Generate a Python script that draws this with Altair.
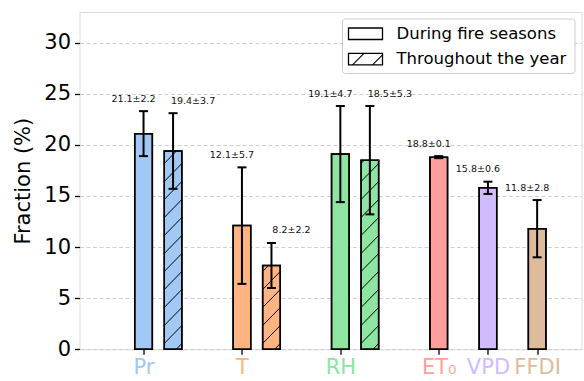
import altair as alt
import pandas as pd

# ---- data -------------------------------------------------------------
variables = ["Pr", "T", "RH", "ET₀", "VPD", "FFDI"]
fire_mean = [21.1, 12.1, 19.1, 18.8, 15.8, 11.8]
fire_sd = [2.2, 5.7, 4.7, 0.1, 0.6, 2.8]
year_vars = ["Pr", "T", "RH"]
year_mean = [19.4, 8.2, 18.5]
year_sd = [3.7, 2.2, 5.3]
colors = ["#a1c9f4", "#ffb482", "#8de5a1", "#ff9f9b", "#d0bbff", "#debb9b"]
period_labels = ["During fire seasons", "Throughout the year"]
y_ticks = [0, 5, 10, 15, 20, 25, 30]

# ---- layout -----------------------------------------------------------
slot = [0, 2, 4, 6, 7, 8]          # axis position of each variable
pair_offset = 0.6                  # hatched bar sits to the right of its pair
W, H = 502, 337.3
x_dom = [-1.2, 8.8]
y_dom = [0, 33]
bar_px = 17.6
hatch_step = 18.0                  # px between hatch lines
FONT = "DejaVu Sans"

pos = dict(zip(variables, slot))

rows = []
for v, m, s in zip(variables, fire_mean, fire_sd):
    rows.append(dict(var=v, period=period_labels[0], x=pos[v], mean=m,
                     lo=m - s, hi=m + s, label=f"{m:.1f}±{s:.1f}"))
for v, m, s in zip(year_vars, year_mean, year_sd):
    rows.append(dict(var=v, period=period_labels[1], x=pos[v] + pair_offset,
                     mean=m, lo=m - s, hi=m + s, label=f"{m:.1f}±{s:.1f}"))
df = pd.DataFrame(rows)
fire_df = df[df.period == period_labels[0]]
year_df = df[df.period == period_labels[1]]

# diagonal hatch segments inside the "throughout the year" bars
px_x = W / (x_dom[1] - x_dom[0])
px_y = H / (y_dom[1] - y_dom[0])
segs = []
for _, r in year_df.iterrows():
    xl = r.x - bar_px / 2 / px_x
    hpx = r["mean"] * px_y
    k = -2
    while k * hatch_step < hpx + hatch_step:
        c = k * hatch_step + 6.0
        u0 = max(0.0, -c)
        u1 = min(bar_px, hpx - c)
        if u1 > u0:
            segs.append(dict(x=xl + u0 / px_x, y=(u0 + c) / px_y,
                             x2=xl + u1 / px_x, y2=(u1 + c) / px_y))
        k += 1
hatch_df = pd.DataFrame(segs)

x_scale = alt.Scale(domain=x_dom, nice=False, zero=False)
y_scale = alt.Scale(domain=y_dom, nice=False)

slot_js = "[" + ",".join(str(s) for s in slot) + "]"
names_js = "[" + ",".join(f"'{v}'" for v in variables) + "]"
colors_js = "[" + ",".join(f"'{c}'" for c in colors) + "]"

x_axis = alt.Axis(
    values=slot, labelExpr=f"{names_js}[indexof({slot_js}, datum.value)]",
    labelColor={"condition": {"test": "datum.value < -100", "value": "black"},
                "expr": f"{colors_js}[indexof({slot_js}, datum.value)]"},
    labelFontSize=21, labelFont=FONT, labelPadding=2, tickSize=5,
    tickWidth=1.3, tickColor="black", domain=False, grid=False, title=None,
)
y_axis = alt.Axis(
    values=y_ticks, labelFontSize=21, labelFont=FONT, labelColor="black",
    labelPadding=4, tickSize=5, tickWidth=1.3, tickColor="black",
    domain=False, grid=True, gridDash=[4, 2.5], gridColor="#d0d0d0",
    gridWidth=1, title="Fraction (%)", titleFontSize=21, titleFont=FONT,
    titleFontWeight="normal", titleColor="black", titlePadding=10,
)

base = alt.Chart(df)

bars = base.mark_bar(size=bar_px, stroke="black", strokeWidth=1.5).encode(
    x=alt.X("x:Q", scale=x_scale, axis=x_axis),
    y=alt.Y("mean:Q", scale=y_scale, axis=y_axis),
    color=alt.Color("var:N", scale=alt.Scale(domain=variables, range=colors),
                    legend=None),
)

hatch = alt.Chart(hatch_df).mark_rule(color="black", strokeWidth=1).encode(
    x=alt.X("x:Q", scale=x_scale), y=alt.Y("y:Q", scale=y_scale),
    x2="x2:Q", y2="y2:Q",
)

outline = base.mark_bar(size=bar_px, fillOpacity=0, stroke="black",
                        strokeWidth=1.5).encode(
    x=alt.X("x:Q", scale=x_scale), y=alt.Y("mean:Q", scale=y_scale))

err = base.mark_rule(color="black", strokeWidth=2).encode(
    x=alt.X("x:Q", scale=x_scale), y=alt.Y("lo:Q", scale=y_scale), y2="hi:Q")
cap_lo = base.mark_tick(orient="horizontal", size=9, thickness=2,
                        color="black", opacity=1).encode(
    x=alt.X("x:Q", scale=x_scale), y=alt.Y("lo:Q", scale=y_scale))
cap_hi = base.mark_tick(orient="horizontal", size=9, thickness=2,
                        color="black", opacity=1).encode(
    x=alt.X("x:Q", scale=x_scale), y=alt.Y("hi:Q", scale=y_scale))

def value_text(data, dx):
    return alt.Chart(data).mark_text(
        fontSize=9.5, font=FONT, color="#111111", dx=dx, dy=-12.5,
        baseline="middle", align="center",
    ).encode(x=alt.X("x:Q", scale=x_scale), y=alt.Y("hi:Q", scale=y_scale),
             text="label:N")

txt_fire = value_text(fire_df, -10)
txt_year = value_text(year_df, 20)

# ---- legend box (top-right corner of the plot) ------------------------
one = alt.Chart(pd.DataFrame({"k": [0]}))
frame = one.mark_rect(fill="white", stroke="#cccccc", strokeWidth=1,
                      cornerRadius=3).encode(
    x=alt.value(263), x2=alt.value(495.5), y=alt.value(7), y2=alt.value(61.5))
patches = []
for top in (16.0, 41.3):
    patches.append(one.mark_rect(fill="white", stroke="black",
                                 strokeWidth=1.3).encode(
        x=alt.value(269), x2=alt.value(303),
        y=alt.value(top), y2=alt.value(top + 11.5)))
legend_hatch = [
    one.mark_rule(color="black", strokeWidth=1.1).encode(
        x=alt.value(273), x2=alt.value(284.5),
        y=alt.value(52.8), y2=alt.value(41.3)),
    one.mark_rule(color="black", strokeWidth=1.1).encode(
        x=alt.value(293), x2=alt.value(303),
        y=alt.value(52.8), y2=alt.value(42.8)),
]
legend_text = [
    one.mark_text(text=lab, fontSize=16.5, font=FONT, color="black",
                  align="left", baseline="middle").encode(
        x=alt.value(317), y=alt.value(yc))
    for lab, yc in zip(period_labels, (21.8, 47.0))
]

chart = alt.layer(
    bars, hatch, outline, err, cap_lo, cap_hi, txt_fire, txt_year,
    frame, *patches, *legend_hatch, *legend_text,
).properties(
    width=W, height=H, autosize="none",
    padding={"left": 79.5, "top": 12, "right": 2.5, "bottom": 31.7},
).configure_view(stroke="black", strokeWidth=1.5).configure(font=FONT)

chart.save("out.html", embed_options={"renderer": "svg", "actions": False})
